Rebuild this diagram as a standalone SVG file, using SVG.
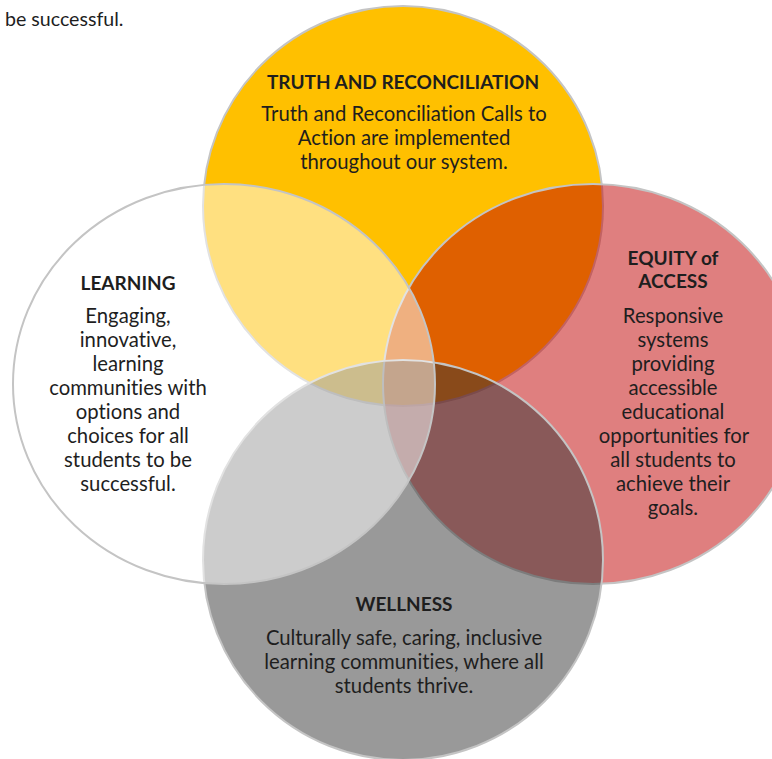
<svg xmlns="http://www.w3.org/2000/svg" width="772" height="759" viewBox="0 0 772 759">
<style>
.c{stroke:#C4C4C4;stroke-width:2}
text{font-family:Lato,"Liberation Sans",sans-serif;fill:#1E1E1E;text-anchor:middle;font-size:20.3px;font-variant-ligatures:none}
.t{font-weight:bold;font-size:19px}
.plain{text-anchor:start;font-size:19.6px}
</style>
<rect width="772" height="759" fill="#FFFFFF"/>
<text class="plain" x="5" y="26">be successful.</text>
<g id="truth">
<circle class="c" cx="403" cy="206" r="200" fill="#FFC000"/>
</g>
<g id="equity">
<ellipse class="c" cx="593" cy="384" rx="210" ry="200" fill="#C00000" fill-opacity="0.5"/>
</g>
<g id="wellness">
<circle class="c" cx="403" cy="560" r="200" fill="#333333" fill-opacity="0.5"/>
</g>
<g id="learning">
<ellipse class="c" cx="224" cy="384" rx="211" ry="200" fill="#FFFFFF" fill-opacity="0.5"/>
</g>
<g id="truth-label">
<text class="t" x="403" y="89">TRUTH AND RECONCILIATION</text>
<text x="404" y="121">Truth and Reconciliation Calls to</text>
<text x="404" y="145">Action are implemented</text>
<text x="404" y="169">throughout our system.</text>
</g>
<g id="learning-label">
<text class="t" x="128" y="290">LEARNING</text>
<text x="128" y="323">Engaging,</text>
<text x="128" y="347">innovative,</text>
<text x="128" y="371">learning</text>
<text x="128" y="395">communities with</text>
<text x="128" y="419">options and</text>
<text x="128" y="443">choices for all</text>
<text x="128" y="467">students to be</text>
<text x="128" y="491">successful.</text>
</g>
<g id="equity-label">
<text class="t" x="673" y="265">EQUITY of</text>
<text class="t" x="673" y="288">ACCESS</text>
<text x="673" y="323">Responsive</text>
<text x="673" y="347">systems</text>
<text x="673" y="371">providing</text>
<text x="673" y="395">accessible</text>
<text x="673" y="419">educational</text>
<text x="674" y="443">opportunities for</text>
<text x="673" y="467">all students to</text>
<text x="673" y="491">achieve their</text>
<text x="673" y="515">goals.</text>
</g>
<g id="wellness-label">
<text class="t" x="404" y="611">WELLNESS</text>
<text x="404" y="645">Culturally safe, caring, inclusive</text>
<text x="404" y="669">learning communities, where all</text>
<text x="404" y="693">students thrive.</text>
</g>
</svg>
